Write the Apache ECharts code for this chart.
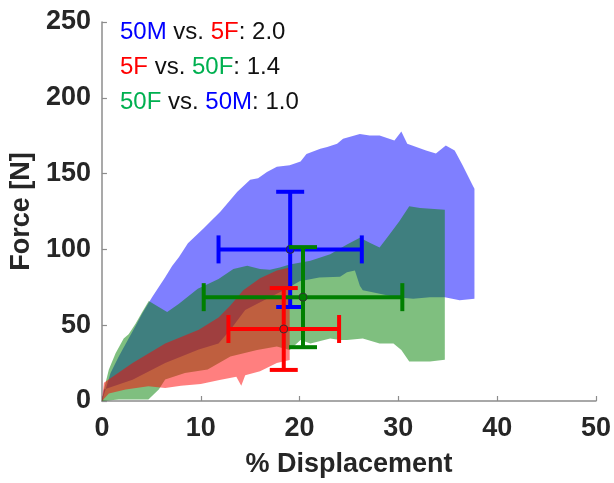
<!DOCTYPE html>
<html><head><meta charset="utf-8">
<script src="https://cdn.jsdelivr.net/npm/echarts@6/dist/echarts.min.js"></script>
<style>html,body{margin:0;padding:0;background:#fff}#c{width:614px;height:483px}</style>
</head><body><div id="c"></div>
<script>
// ---- data ----
const xTickInterval = 10;
const yTickInterval = 50;

const blueUpper = [[0,0],[0.37,7.6],[0.87,18.5],[1.7,29.4],[2.7,41.3],[3.4,49.5],[4.06,57.6],[5.07,68.5],[6.4,81.6],[7.1,89],[7.8,95],[8.7,104],[10.3,114],[12,125],[13.7,138],[15,146],[15.8,147],[16.7,151],[17.7,154.5],[19,155.5],[20.1,158],[20.7,163],[22.1,166.4],[22.8,167.6],[23.8,169.7],[24.4,173],[26.1,176.2],[27.1,175.1],[28.1,175.1],[29.6,171.9],[30.3,177.7],[30.9,169.7],[32.8,165.3],[33.8,163.2],[34.8,168.6],[35.7,165.3],[36.5,155.5],[37.5,142.5],[37.7,140]];
const blueLower = [[0,0],[0.2,7.6],[3.1,14],[6.4,25],[9.8,34],[11.8,38],[13,47],[14.5,60],[17,68.5],[18.7,74],[20,79],[22,81.5],[24.1,82],[24.8,85],[25.6,86],[26.1,76],[26.4,73],[28.1,70.7],[29.8,68.5],[31.5,67.4],[33.2,68.5],[34.7,68.5],[36.2,66.4],[37.7,67.4]];

const greenUpper = [[0,0],[0.2,7.6],[0.7,20.7],[1.38,31.5],[2.2,41.3],[2.7,44],[3.4,51],[4.06,58.5],[4.74,66],[5.75,62],[6.6,58.7],[7.76,64],[9.7,74],[11,78],[11.8,80.5],[13.3,87],[14.7,89.2],[16,87],[17,86.5],[18,88],[19,90],[21.1,92.5],[23.1,96.8],[24.8,103.3],[26.1,107.7],[27.1,104.4],[28.1,101.2],[29.1,109.9],[30.1,118.6],[31.1,128.4],[32.2,127.3],[34.7,126.2]];
const greenLower = [[0,0],[1.7,1],[4.7,1],[5.75,7.6],[6.4,14.2],[8.4,18.5],[10.7,20.7],[13,29.4],[15.7,33.7],[17.7,36],[19,33.7],[20.1,40.3],[21.1,38],[23.1,41.3],[24.1,40.3],[24.8,40.3],[26.4,41.3],[28.1,38],[29.5,38],[30.3,33.7],[31.1,26.1],[33.2,26.1],[34.7,27.2]];

const redUpper = [[0,0],[0.2,12],[3.1,25],[6.4,38],[9.8,47],[11.8,55],[13,63],[14.3,73],[16,81],[17.7,86],[19,88]];
const redLower = [[0,0],[0.7,5],[2.4,7.6],[4.7,9.8],[6.4,8.6],[8,10],[10,11.2],[11.9,13.8],[13.6,16],[14.1,10],[14.5,17],[16,19.6],[17.7,25],[19,27]];

// error bars: [meanX, meanY, errX, errY]
const blueErr  = [19.05, 100, 7.25, 38];
const greenErr = [20.35, 68.5, 10.05, 33];
const redErr   = [18.4, 47.5, 5.6, 27];

const FONT = "'Liberation Sans Narrow','Arial Narrow','Liberation Sans',Arial,sans-serif";

function bandSeries(upper, lower, fill){
  return {
    type:'custom', data:[[0,0]], z:2, silent:true,
    renderItem:function(params, api){
      const pts = upper.map(p=>api.coord(p)).concat(lower.slice().reverse().map(p=>api.coord(p)));
      return {type:'polygon', shape:{points:pts}, style:{fill:fill}};
    }
  };
}
function errSeries(d, color){
  return {
    type:'custom', data:[d], z:5, silent:true,
    renderItem:function(params, api){
      const cx=api.value(0), cy=api.value(1), ex=api.value(2), ey=api.value(3);
      const c=api.coord([cx,cy]), l=api.coord([cx-ex,cy]), r=api.coord([cx+ex,cy]);
      const t=api.coord([cx,cy+ey]), b=api.coord([cx,cy-ey]);
      const cap=14, st={stroke:color, lineWidth:4};
      return {type:'group', children:[
        {type:'line', shape:{x1:l[0],y1:l[1],x2:r[0],y2:r[1]}, style:st},
        {type:'line', shape:{x1:t[0],y1:t[1],x2:b[0],y2:b[1]}, style:st},
        {type:'line', shape:{x1:l[0],y1:l[1]-cap,x2:l[0],y2:l[1]+cap}, style:st},
        {type:'line', shape:{x1:r[0],y1:r[1]-cap,x2:r[0],y2:r[1]+cap}, style:st},
        {type:'line', shape:{x1:t[0]-cap,y1:t[1],x2:t[0]+cap,y2:t[1]}, style:st},
        {type:'line', shape:{x1:b[0]-cap,y1:b[1],x2:b[0]+cap,y2:b[1]}, style:st},
        {type:'circle', shape:{cx:c[0],cy:c[1],r:4}, style:{fill:color, stroke:'#333', lineWidth:1}}
      ]};
    }
  };
}

const labelStyle = {fontFamily:FONT, fontWeight:'bold', fontSize:27, color:'#262626'};
const axisLine = {show:true, lineStyle:{color:'#8c8c8c', width:1.5}};
const axisTick = {show:true, inside:true, length:5, lineStyle:{color:'#8c8c8c', width:1.2}};

const txt = "'Liberation Sans',Arial,sans-serif";
const rich = {
  b:{color:'#0000ff', fontSize:24, fontFamily:txt, fontWeight:'normal'},
  r:{color:'#ff0000', fontSize:24, fontFamily:txt, fontWeight:'normal'},
  g:{color:'#00b050', fontSize:24, fontFamily:txt, fontWeight:'normal'},
  k:{color:'#111111', fontSize:24, fontFamily:txt, fontWeight:'normal'}
};

const chart = echarts.init(document.getElementById('c'), null, {renderer:'canvas'});
chart.setOption({
  animation:false,
  backgroundColor:'#ffffff',
  grid:{left:101, right:17, top:22, bottom:79},
  title:[
    {left:115, top:15, text:'{b|50M}{k| vs. }{r|5F}{k|: 2.0}', textStyle:{fontWeight:'normal', rich:rich}},
    {left:115, top:50, text:'{r|5F}{k| vs. }{g|50F}{k|: 1.4}', textStyle:{fontWeight:'normal', rich:rich}},
    {left:115, top:85, text:'{g|50F}{k| vs. }{b|50M}{k|: 1.0}', textStyle:{fontWeight:'normal', rich:rich}}
  ],
  xAxis:{type:'value', min:0, max:50, interval:xTickInterval,
    axisLine:axisLine, axisTick:axisTick, splitLine:{show:false},
    axisLabel:Object.assign({margin:14}, labelStyle),
    name:'% Displacement', nameLocation:'middle', nameGap:50,
    nameTextStyle:{fontFamily:FONT, fontWeight:'bold', fontSize:27, color:'#262626'}},
  yAxis:{type:'value', min:0, max:250, interval:yTickInterval,
    axisLine:axisLine, axisTick:axisTick, splitLine:{show:false},
    axisLabel:Object.assign({margin:11}, labelStyle),
    name:'Force [N]', nameLocation:'middle', nameGap:50, nameRotate:90,
    nameTextStyle:{fontFamily:FONT, fontWeight:'bold', fontSize:27, color:'#262626'}},
  series:[
    bandSeries(blueUpper, blueLower, 'rgba(0,0,255,0.5)'),
    bandSeries(greenUpper, greenLower, 'rgba(0,128,0,0.5)'),
    bandSeries(redUpper, redLower, 'rgba(255,0,0,0.5)'),
    errSeries(blueErr, '#0000ff'),
    errSeries(greenErr, '#007f00'),
    errSeries(redErr, '#ff0000')
  ]
});
</script></body></html>
